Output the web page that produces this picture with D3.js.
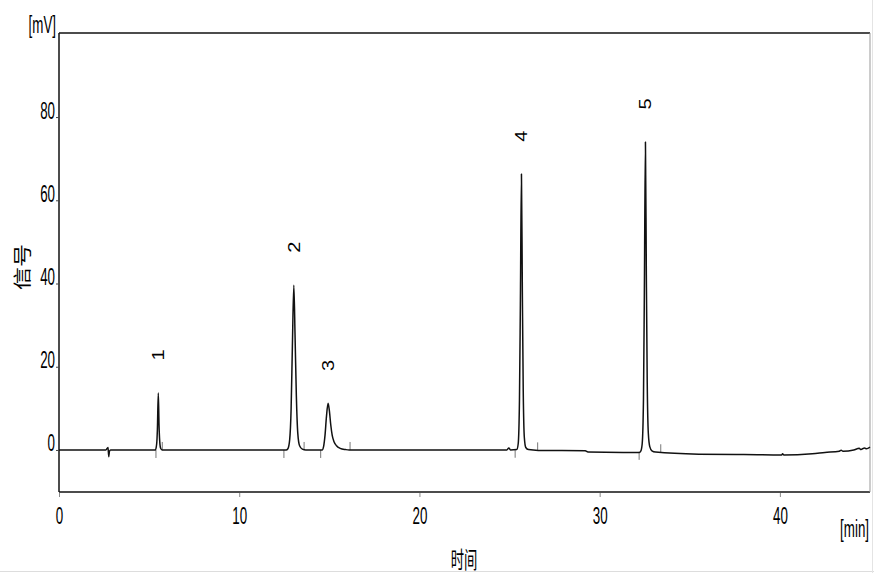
<!DOCTYPE html>
<html>
<head>
<meta charset="utf-8">
<script src="https://cdn.jsdelivr.net/npm/d3@7/dist/d3.min.js"></script>
<style>
  html, body { margin: 0; padding: 0; background: #fff; }
  svg { display: block; }
</style>
</head>
<body>
<svg id="chart" width="874" height="573"></svg>
<script>
// ---------------- data ----------------
const traceTime = [0, 2.60, 2.72, 2.76, 2.80, 2.86,
  5.35, 5.42, 5.46, 5.51, 5.55, 5.59, 5.64, 5.72,
  12.60, 12.70, 12.80, 12.88, 12.95, 13.03, 13.10, 13.17, 13.25, 13.35, 13.50, 13.70,
  14.60, 14.68, 14.76, 14.84, 14.93, 15.00, 15.08, 15.16, 15.26, 15.40, 15.60, 15.90, 16.10,
  24.85, 24.96, 25.05, 25.40, 25.48, 25.55, 25.60, 25.66, 25.71, 25.76, 25.82, 25.90, 26.05, 26.60,
  29.20, 29.35, 32.20, 32.28, 32.36, 32.43, 32.48, 32.54, 32.59, 32.64, 32.70, 32.78, 32.90, 33.10,
  35.50, 38.00, 40.10, 40.15, 40.22, 41.80, 42.50, 43.30, 43.40, 43.50, 44.10, 44.40, 44.50, 44.70, 44.80, 45.00];
const traceMV = [0, 0, 0.6, -1.6, -0.3, 0,
  0, 1.5, 5, 13.7, 6, 2, 0.4, 0,
  0, 0.3, 2.5, 10, 25, 39.6, 27, 13, 4, 1, 0.2, 0,
  0, 0.8, 3.5, 8, 11.2, 9.5, 6, 3.5, 2, 1, 0.4, 0.1, 0,
  0, 0.5, 0, 0.1, 1.5, 12, 35, 66.3, 38, 14, 3, 0.6, 0.1, -0.1,
  -0.2, -0.5, -0.6, -0.3, 1.5, 12, 38, 74, 42, 16, 4, 0.8, -0.2, -0.5,
  -1.0, -1.1, -1.2, -0.9, -1.2, -0.9, -0.6, -0.3, -0.05, -0.3, 0, 0.4, 0.1, 0.5, 0.3, 0.7];

const peakLabels = ["1", "2", "3", "4", "5"];
const peakTimes = [5.51, 13.03, 14.93, 25.66, 32.54];
const peakHeights = [13.7, 39.6, 11.2, 66.3, 74];
const peakStarts = [5.38, 12.48, 14.52, 25.31, 32.19];
const peakEnds = [5.73, 13.60, 16.15, 26.56, 33.39];
const peakStartLevel = [0, 0, 0, 0.05, -0.45];
const peakEndLevel = [0, 0, 0, -0.1, -0.55];

const xTicks = [0, 10, 20, 30, 40];
const yTicks = [0, 20, 40, 60, 80];
const xDomain = [0, 45];
const yDomain = [-10.1, 100.2];
const xUnit = "[min]";
const yUnit = "[mV]";
const xTitle = "时间";
const yTitle = "信号";

// ---------------- layout ----------------
const svg = d3.select("#chart");
const pL = 59, pR = 870, pT = 33, pB = 492;
const x = d3.scaleLinear().domain(xDomain).range([pL, pR]);
const y = d3.scaleLinear().domain(yDomain).range([pB, pT]);

const FONT = "'Liberation Sans', Arial, sans-serif";
const CJK = "'Noto Sans CJK SC', sans-serif";
const SQ = 0.58;
const FS = "23px";

// frame
svg.append("line").attr("x1", pL).attr("x2", pR).attr("y1", pT).attr("y2", pT)
  .attr("stroke", "#111").attr("stroke-width", 1.5);
svg.append("line").attr("x1", pL).attr("x2", pL).attr("y1", pT).attr("y2", pB)
  .attr("stroke", "#111").attr("stroke-width", 1.5);
svg.append("line").attr("x1", pL).attr("x2", pR).attr("y1", pB).attr("y2", pB)
  .attr("stroke", "#111").attr("stroke-width", 1.5);
svg.append("line").attr("x1", pR).attr("x2", pR).attr("y1", pT).attr("y2", pB)
  .attr("stroke", "#999").attr("stroke-width", 1);
// image edge lines
svg.append("line").attr("x1", 0).attr("x2", 874).attr("y1", 571.5).attr("y2", 571.5)
  .attr("stroke", "#ddd").attr("stroke-width", 1);
svg.append("line").attr("x1", 872.5).attr("x2", 872.5).attr("y1", 0).attr("y2", 573)
  .attr("stroke", "#e4e4e4").attr("stroke-width", 1);

// y axis
const yAxis = svg.append("g").attr("transform", `translate(${pL},0)`)
  .call(d3.axisLeft(y).tickValues(yTicks).tickSize(3).tickFormat(d3.format("d")));
yAxis.select(".domain").remove();
yAxis.selectAll(".tick line").attr("stroke", "#444");
yAxis.selectAll(".tick text")
  .attr("x", null).attr("dy", null).attr("y", 1)
  .attr("transform", `translate(-4,0) scale(${SQ},1)`)
  .attr("text-anchor", "end")
  .attr("fill", "#000")
  .style("font-family", FONT).style("font-size", FS);

// x axis
const xAxis = svg.append("g").attr("transform", `translate(0,${pB})`)
  .call(d3.axisBottom(x).tickValues(xTicks).tickSize(5).tickFormat(d3.format("d")));
xAxis.select(".domain").remove();
xAxis.selectAll(".tick line").attr("stroke", "#888").attr("y1", 1);
xAxis.selectAll(".tick text")
  .attr("y", null).attr("dy", null)
  .attr("transform", `translate(0,32) scale(${SQ},1)`)
  .attr("text-anchor", "middle")
  .attr("fill", "#000")
  .style("font-family", FONT).style("font-size", FS);

// units and titles
svg.append("text").text(yUnit)
  .attr("transform", `translate(56,33) scale(${SQ},1)`)
  .attr("text-anchor", "end").attr("fill", "#000")
  .style("font-family", FONT).style("font-size", FS);
svg.append("text").text(xUnit)
  .attr("transform", `translate(869,537) scale(${SQ},1)`)
  .attr("text-anchor", "end").attr("fill", "#000")
  .style("font-family", FONT).style("font-size", FS);
svg.append("text").text(xTitle)
  .attr("transform", `translate(464,568) scale(${SQ},1)`)
  .attr("text-anchor", "middle").attr("fill", "#000")
  .style("font-family", CJK).style("font-size", FS);
svg.append("text").text(yTitle)
  .attr("transform", `translate(29,267) scale(0.8,1) rotate(-90)`)
  .attr("text-anchor", "middle").attr("fill", "#000")
  .style("font-family", CJK).style("font-size", FS);

// integration markers
const g = svg.append("g");
g.selectAll("line.start").data(peakStarts).join("line").attr("class", "start")
  .attr("x1", d => x(d)).attr("x2", d => x(d))
  .attr("y1", (d, i) => y(peakStartLevel[i])).attr("y2", (d, i) => y(peakStartLevel[i]) + 8)
  .attr("stroke", "#777").attr("stroke-width", 1);
g.selectAll("line.end").data(peakEnds).join("line").attr("class", "end")
  .attr("x1", d => x(d)).attr("x2", d => x(d))
  .attr("y1", (d, i) => y(peakEndLevel[i])).attr("y2", (d, i) => y(peakEndLevel[i]) - 8)
  .attr("stroke", "#777").attr("stroke-width", 1);

// trace
const pts = traceTime.map((t, i) => [t, traceMV[i]]);
const line = d3.line().x(d => x(d[0])).y(d => y(d[1])).curve(d3.curveMonotoneX);
svg.append("path").datum(pts).attr("d", line)
  .attr("fill", "none").attr("stroke", "#111").attr("stroke-width", 1.5)
  .attr("stroke-linejoin", "round");

// peak labels
svg.selectAll("text.peak").data(peakLabels).join("text").attr("class", "peak")
  .text(d => d)
  .attr("transform", (d, i) => `translate(${x(peakTimes[i])},${y(peakHeights[i]) - 38}) scale(0.85,1) rotate(-90)`)
  .attr("text-anchor", "middle").attr("dominant-baseline", "central")
  .attr("fill", "#000")
  .style("font-family", FONT).style("font-size", "20px");
</script>
</body>
</html>
